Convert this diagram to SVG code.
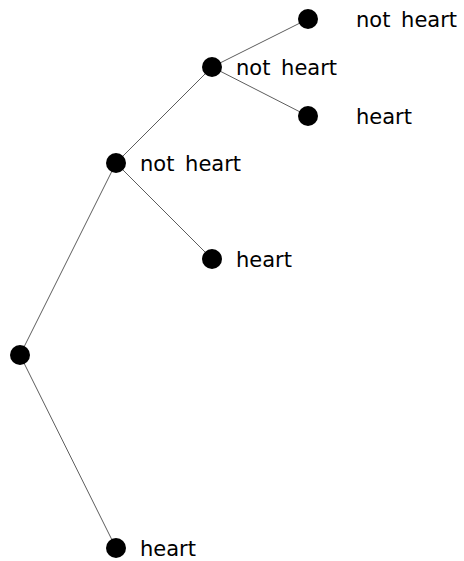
<svg xmlns="http://www.w3.org/2000/svg" width="464" height="561" viewBox="0 0 464 561">
<style>
.e{stroke:#333;stroke-width:0.8;fill:none}
.n{fill:#000}
.t{font-family:"DejaVu Sans",sans-serif;font-size:21px;fill:#000;word-spacing:4px}
</style>
<rect width="464" height="561" fill="#fff"/>
<g id="edges">
<line class="e" x1="20" y1="355" x2="116" y2="163"/>
<line class="e" x1="20" y1="355" x2="116" y2="548"/>
<line class="e" x1="116" y1="163" x2="212" y2="67"/>
<line class="e" x1="116" y1="163" x2="212" y2="259"/>
<line class="e" x1="212" y1="67" x2="308" y2="19"/>
<line class="e" x1="212" y1="67" x2="308" y2="116"/>
</g>
<g id="root"><circle class="n" cx="20" cy="355" r="10"/></g>
<g id="n1"><circle class="n" cx="116" cy="163" r="10"/><text class="t" x="140" y="171">not heart</text></g>
<g id="n2"><circle class="n" cx="116" cy="548" r="10"/><text class="t" x="140" y="556">heart</text></g>
<g id="n3"><circle class="n" cx="212" cy="67" r="10"/><text class="t" x="236" y="75">not heart</text></g>
<g id="n4"><circle class="n" cx="212" cy="259" r="10"/><text class="t" x="236" y="267">heart</text></g>
<g id="n5"><circle class="n" cx="308" cy="19" r="10"/><text class="t" x="356" y="27">not heart</text></g>
<g id="n6"><circle class="n" cx="308" cy="116" r="10"/><text class="t" x="356" y="124">heart</text></g>
</svg>
